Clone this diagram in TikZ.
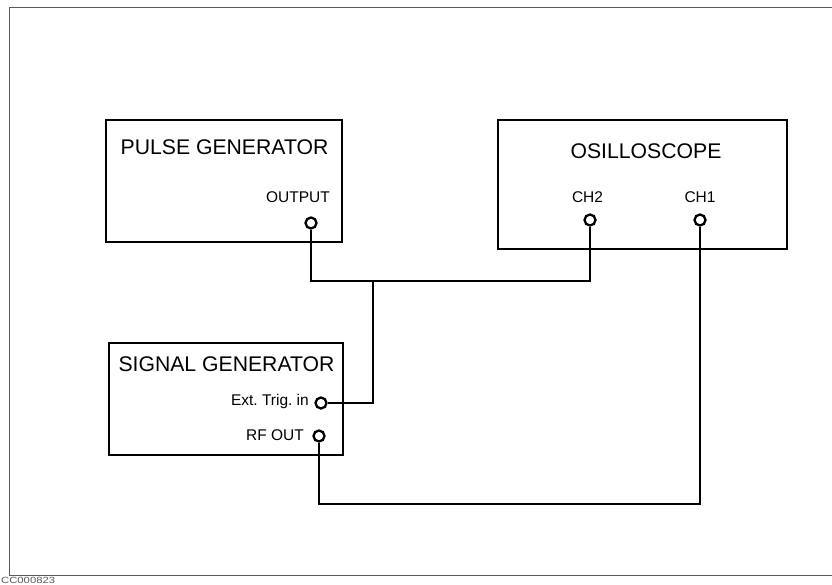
\documentclass[tikz,border=0pt]{standalone}
\usepackage{fontspec}
\setmainfont{Liberation Sans}
\usepackage{tikz}
\definecolor{frame}{RGB}{90, 90, 90}
\newcommand*{\lw}{2.3}
\frenchspacing

\begin{document}
\begin{tikzpicture}[
   x=1pt, y=-1pt,
   unit/.style={rectangle, draw=black, line width=\lw, inner sep=0},
   title/.style={anchor=base, inner sep=0, font=\fontsize{21.2}{24}\selectfont},
   label/.style={anchor=base, inner sep=0, font=\fontsize{15.5}{18}\selectfont},
   port/.style={circle, draw=black, fill=white, line width=\lw, inner sep=0,
                minimum size=11},
   wire/.style={draw=black, line width=\lw}
  ]

  \useasboundingbox (0, 0) rectangle (832, 584);
  \draw[frame, line width=1] (9, 7) rectangle (840, 575);
  \node[anchor=base west, inner sep=0, text=frame, xscale=1.25,
        font=\fontsize{9}{10}\selectfont] (code) at (1, 583.3) {CC000823};

  % Units
  \node (P) at (224, 181) [unit, minimum width=236, minimum height=122] {};
  \node (O) at (642.5, 184.5) [unit, minimum width=289, minimum height=129] {};
  \node (S) at (226, 399) [unit, minimum width=234, minimum height=112] {};

  \node (Pt) at (224.5, 154) [title] {PULSE GENERATOR};
  \node (Ot) at (646, 158) [title] {OSILLOSCOPE};
  \node (St) at (226.5, 371) [title] {SIGNAL GENERATOR};

  \node (Pl) at (330, 202) [label, anchor=base east] {OUTPUT};
  \node (C2l) at (587.5, 202) [label] {CH2};
  \node (C1l) at (700, 202) [label] {CH1};
  \node (El) at (309, 405) [label, anchor=base east] {Ext. Trig. in};
  \node (Rl) at (304, 440) [label, anchor=base east] {RF OUT};

  % Ports
  \node (out) at (311, 223) [port] {};
  \node (ch2) at (590, 220) [port] {};
  \node (ch1) at (700, 220) [port] {};
  \node (ext) at (321, 403) [port] {};
  \node (rf) at (319, 436) [port] {};

  \coordinate (J) at (373, 281);
  \coordinate (K) at (700, 504);

  % Cables
  \draw[wire] (out) |- (J) -| (ch2);
  \draw[wire] (J) |- (ext);
  \draw[wire] (rf) |- (K) -- (ch1);

\end{tikzpicture}
\end{document}
